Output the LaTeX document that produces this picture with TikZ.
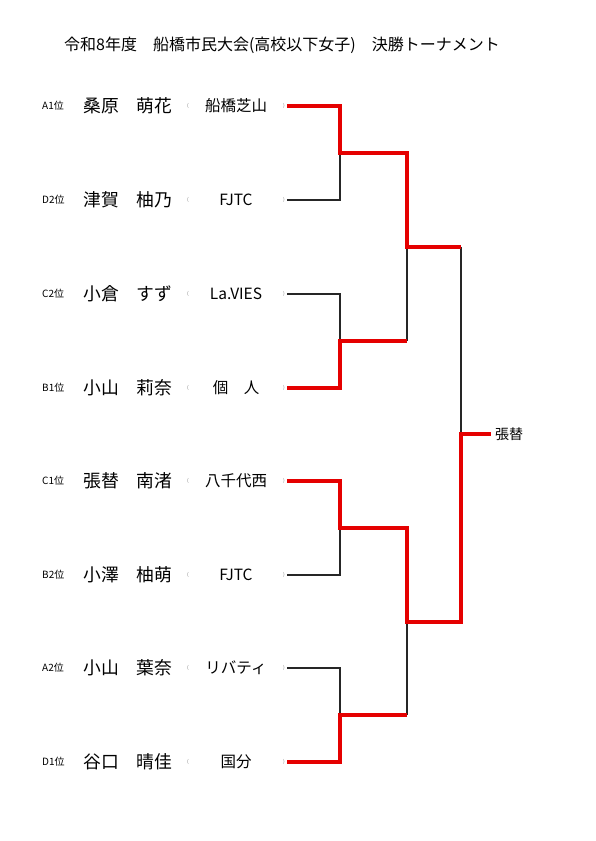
\documentclass[tikz,border=0pt]{standalone}
\usepackage{fontspec}
\setmainfont{Noto Sans CJK JP}
\begin{document}
\begin{tikzpicture}[x=1pt,y=-1pt,
  rank/.style={font=\fontsize{10}{11}\selectfont,inner sep=0pt,anchor=west},
  pname/.style={font=\fontsize{17.8}{19}\selectfont,inner sep=0pt,anchor=west},
  team/.style={font=\fontsize{15.5}{17}\selectfont,inner sep=0pt},
  par/.style={font=\fontsize{5}{6}\selectfont,inner sep=0pt,text=gray},
  win/.style={draw=red!90!black,line width=3.2pt,line join=miter},
  lose/.style={draw=black!85,line width=1.4pt,line join=miter}]
\useasboundingbox (0,0) rectangle (595,841);
\node[font=\fontsize{16}{18}\selectfont,inner sep=0pt] (title) at (282,45) {令和8年度　船橋市民大会(高校以下女子)　決勝トーナメント};
\foreach \i/\y/\r/\n/\t in {
  1/106/A1位/桑原　萌花/船橋芝山,
  2/200/D2位/津賀　柚乃/FJTC,
  3/294/C2位/小倉　すず/La.VIES,
  4/388/B1位/小山　莉奈/個　人,
  5/481/C1位/張替　南渚/八千代西,
  6/575/B2位/小澤　柚萌/FJTC,
  7/668/A2位/小山　葉奈/リバティ,
  8/762/D1位/谷口　晴佳/国分}{
  \node[rank] (r\i) at (42,\y) {\r};
  \node[pname] (n\i) at (83,\y) {\n};
  \node[par] (lp\i) at (188,\y) {(};
  \node[team] (t\i) at (236,\y) {\t};
  \node[par] (rp\i) at (284,\y) {)};
  \coordinate (s\i) at (287,\y);
}
\coordinate (j1) at (340,153);
\coordinate (j2) at (340,341);
\coordinate (j3) at (340,528);
\coordinate (j4) at (340,715);
\coordinate (k1) at (407,247);
\coordinate (b1) at (407,341);
\coordinate (k2) at (407,622);
\coordinate (b2) at (407,715);
\coordinate (t1) at (461,247);
\coordinate (f) at (461,434);
\node[font=\fontsize{14}{15}\selectfont,inner sep=0pt,anchor=west] (w) at (495,434) {張替};
% losers
\draw[lose] (s2) -| (j1);
\draw[lose] (s3) -| (j2);
\draw[lose] (s6) -| (j3);
\draw[lose] (s7) -| (j4);
\draw[lose] (b1) -- (k1);
\draw[lose] (b2) -- (k2);
\draw[lose] (t1) -- (f);
% winners
\draw[win] (s1) -| (j1) -| (k1) -- (t1);
\draw[win] (s4) -| (j2) -- (b1);
\draw[win] (s5) -| (j3) -| (k2) -| (f) -- ([xshift=-4pt]w.west);
\draw[win] (s8) -| (j4) -- (b2);
\end{tikzpicture}
\end{document}
